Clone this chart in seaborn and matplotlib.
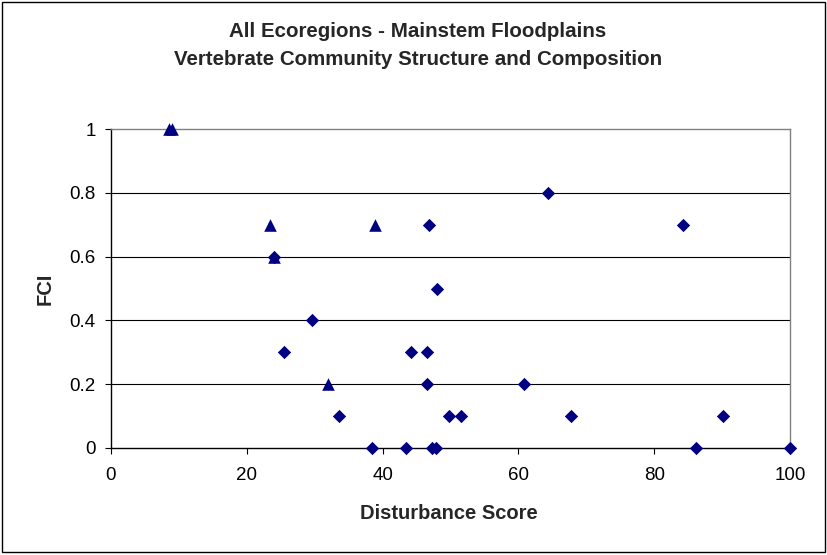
import numpy as np
import pandas as pd
import matplotlib
matplotlib.use("Agg")
import matplotlib.pyplot as plt
import seaborn as sns
from matplotlib.patches import Rectangle

# Data
diamond_x = [24.0, 25.5, 29.6, 33.6, 38.4, 43.4, 44.2, 46.6, 46.6, 46.9, 47.3, 47.8,
             48.0, 49.8, 51.5, 60.8, 64.3, 67.7, 84.3, 86.1, 90.2, 100.0]
diamond_y = [0.6, 0.3, 0.4, 0.1, 0.0, 0.0, 0.3, 0.3, 0.2, 0.7, 0.0, 0.0,
             0.5, 0.1, 0.1, 0.2, 0.8, 0.1, 0.7, 0.0, 0.1, 0.0]
triangle_x = [8.5, 9.0, 23.4, 24.0, 32.0, 38.9]
triangle_y = [1.0, 1.0, 0.7, 0.6, 0.2, 0.7]

x_ticks = [0, 20, 40, 60, 80, 100]
y_ticks = [0, 0.2, 0.4, 0.6, 0.8, 1.0]

df_d = pd.DataFrame({"score": diamond_x, "fci": diamond_y})
df_t = pd.DataFrame({"score": triangle_x, "fci": triangle_y})

sns.set_style("white")
plt.rcParams["font.family"] = ["Liberation Sans", "DejaVu Sans"]

navy = "#000080"
fig = plt.figure(figsize=(8.27, 5.55), dpi=100)
ax = fig.add_axes([111 / 827, 1 - 448 / 555, 679 / 827, 319 / 555])

sns.scatterplot(data=df_d, x="score", y="fci", marker="D", s=46, color=navy,
                linewidth=0, ax=ax, clip_on=False, zorder=3)
sns.scatterplot(data=df_t, x="score", y="fci", marker="^", s=82, color=navy,
                linewidth=0, ax=ax, clip_on=False, zorder=4)

ax.set_xlim(0, 100)
ax.set_ylim(0, 1)
ax.set_xticks(x_ticks)
ax.set_yticks(y_ticks)
ax.set_yticklabels(["%g" % v for v in y_ticks])
ax.tick_params(axis="both", direction="out", length=4, width=0.8, color="black",
               labelsize=13.5, labelcolor="black", bottom=True, left=True)
ax.tick_params(axis="x", pad=10)
ax.tick_params(axis="y", pad=7)

for v in y_ticks[1:-1]:
    ax.axhline(v, color="black", lw=0.8, zorder=1)
ax.spines["left"].set_color("black")
ax.spines["bottom"].set_color("black")
ax.spines["left"].set_linewidth(1.0)
ax.spines["bottom"].set_linewidth(1.0)
ax.spines["top"].set_color("#808080")
ax.spines["right"].set_color("#808080")
ax.spines["top"].set_linewidth(1.0)
ax.spines["right"].set_linewidth(1.0)

ax.set_xlabel("Disturbance Score", fontsize=14.5, fontweight="bold")
ax.set_ylabel("FCI", fontsize=14.5, fontweight="bold")
ax.xaxis.set_label_coords(0.497, -0.175)
ax.yaxis.set_label_coords(-0.083, 0.5)

fig.text(418 / 827, 1 - 37 / 555, "All Ecoregions - Mainstem Floodplains",
         ha="center", va="baseline", fontsize=14.8, fontweight="bold")
fig.text(418 / 827, 1 - 65 / 555, "Vertebrate Community Structure and Composition",
         ha="center", va="baseline", fontsize=14.8, fontweight="bold")

fig.patches.append(Rectangle((1.5 / 827, 3 / 555), 823 / 827, 550 / 555,
                             transform=fig.transFigure, fill=False,
                             edgecolor="black", lw=1.0))

fig.savefig("out.png", dpi=100)
